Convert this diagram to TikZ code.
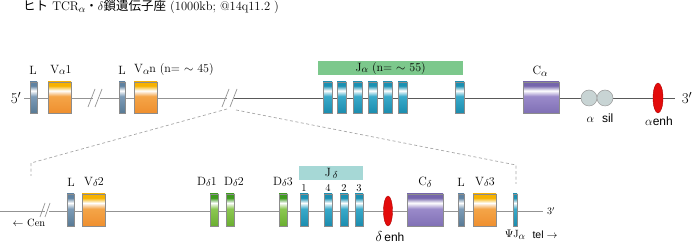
\documentclass[tikz,border=0pt]{standalone}
\usepackage{fontspec}
\newfontfamily\cjk{Noto Sans CJK JP}
\newfontfamily\sansf{Liberation Sans}
\usetikzlibrary{shapes.geometric}
\newcommand\gsub[1]{\raisebox{-0.35ex}{\fontsize{10}{10}\selectfont$#1$}}
\definecolor{stT}{HTML}{5F82A2}\definecolor{stM}{HTML}{7D9CB8}\definecolor{stB}{HTML}{587A95}
\definecolor{orT}{HTML}{F7B200}\definecolor{orM}{HTML}{F4A548}\definecolor{orB}{HTML}{EF8F2F}
\definecolor{tlT}{HTML}{1B90B2}\definecolor{tlM}{HTML}{3AAACA}\definecolor{tlB}{HTML}{1B8CAE}
\definecolor{puT}{HTML}{7565AC}\definecolor{puM}{HTML}{9A8ACA}\definecolor{puB}{HTML}{8070B5}
\definecolor{grT}{HTML}{3E9A1E}\definecolor{grM}{HTML}{8CC852}\definecolor{grB}{HTML}{6AAE30}
\definecolor{jabar}{HTML}{7CC88C}\definecolor{jdbar}{HTML}{A6D8D6}
\definecolor{circ}{HTML}{C8D4D4}\definecolor{enhred}{HTML}{E30B0B}
\pgfdeclareverticalshading{steelsh}{100bp}{color(0bp)=(stB); color(25bp)=(stB); color(52bp)=(stM); color(61bp)=(white); color(69bp)=(stT); color(75bp)=(stT); color(100bp)=(stT)}
\pgfdeclareverticalshading{orangesh}{100bp}{color(0bp)=(orB); color(25bp)=(orB); color(52bp)=(orM); color(61bp)=(white); color(69bp)=(orT); color(75bp)=(orT); color(100bp)=(orT)}
\pgfdeclareverticalshading{tealsh}{100bp}{color(0bp)=(tlB); color(25bp)=(tlB); color(52bp)=(tlM); color(61bp)=(white); color(69bp)=(tlT); color(75bp)=(tlT); color(100bp)=(tlT)}
\pgfdeclareverticalshading{purplesh}{100bp}{color(0bp)=(puB); color(25bp)=(puB); color(52bp)=(puM); color(61bp)=(white); color(69bp)=(puT); color(75bp)=(puT); color(100bp)=(puT)}
\pgfdeclareverticalshading{greensh}{100bp}{color(0bp)=(grB); color(25bp)=(grB); color(52bp)=(grM); color(61bp)=(white); color(69bp)=(grT); color(75bp)=(grT); color(100bp)=(grT)}
\tikzset{
  seg/.style={inner sep=0pt, outer sep=0pt, draw=gray!90, line width=0.6pt, anchor=north west},
  lbox/.style={seg, shading=steelsh},
  vbox/.style={seg, shading=orangesh},
  jbox/.style={seg, shading=tealsh},
  cbox/.style={seg, shading=purplesh},
  dbox/.style={seg, shading=greensh},
  lab/.style={inner sep=0pt, font=\fontsize{12}{13}\selectfont},
  sml/.style={inner sep=0pt, font=\fontsize{10.5}{11}\selectfont},
  gline/.style={draw=gray!85, line width=0.8pt},
  dline/.style={draw=black!65, line width=0.8pt},
  brk/.style={draw=gray!85, line width=0.7pt},
  dsh/.style={draw=gray!70, line width=0.7pt, dash pattern=on 3pt off 2.5pt},
  enh/.style={ellipse, fill=enhred, draw=red!70!black, line width=0.4pt, inner sep=0pt},
  sil/.style={circle, fill=circ, draw=gray!80, line width=0.5pt, inner sep=0pt, minimum size=16pt},
}
\begin{document}
\begin{tikzpicture}[x=1pt,y=-1pt]
\useasboundingbox (0,0) rectangle (694,245);
% title
\node[anchor=west, inner sep=0pt, font=\fontsize{12.5}{14}\selectfont] (title) at (23,7)
  {{\cjk ヒト} TCR\gsub{\alpha}{\cjk ・}$\delta${\cjk 鎖遺伝子座} (1000kb; @14q11.2 )};
% ===== top row =====
\coordinate (t0) at (24,98);
\coordinate (b1a) at (93,98); \coordinate (b1b) at (100,98);
\coordinate (b2a) at (227,98); \coordinate (b2b) at (234,98);
\coordinate (tE) at (675,98);
\draw[gline] (t0) -- (b1a);
\draw[gline] (b1b) -- (b2a);
\draw[dline] (b2b) -- (tE);
\draw[brk] (88,107) -- (95,89); \draw[brk] (95,107) -- (102,89);
\draw[brk] (222,107) -- (229,89); \draw[brk] (230,107) -- (237,89);
\node[inner sep=0pt, font=\fontsize{15}{16}\selectfont] (p5) at (16,98) {5$'$};
\node[inner sep=0pt, font=\fontsize{15}{16}\selectfont] (p3) at (687,98) {3$'$};
\node[lbox, minimum width=7pt, minimum height=31pt] (La1) at (30,82) {};
\node[vbox, minimum width=23pt, minimum height=31pt] (Va1) at (48,82) {};
\node[lbox, minimum width=6pt, minimum height=31pt] (La2) at (119,82) {};
\node[vbox, minimum width=23pt, minimum height=31pt] (Van) at (134,82) {};
\node[lab] at (33,70) {L};
\node[lab] at (61,70) {V\gsub{\alpha}1};
\node[lab] at (122,70) {L};
\node[lab, anchor=west] at (134,70) {V\gsub{\alpha}n (n= $\sim$ 45)};
% J alpha
\node[fill=jabar, inner sep=0pt, minimum width=145pt, minimum height=14pt, anchor=north west] (jabar) at (318,61) {};
\node[lab] at (jabar.center) {J\gsub{\alpha} (n= $\sim$ 55)};
\foreach \x [count=\i] in {323,337,353,368,383,398,455}
  \node[jbox, minimum width=9pt, minimum height=31pt] (Ja\i) at (\x,82) {};
\node[cbox, minimum width=36pt, minimum height=31pt] (Ca) at (523,82) {};
\node[lab] at (540,71) {C\gsub{\alpha}};
\node[sil] (s1) at (589,98) {};
\node[sil] (s2) at (605,98) {};
\node[lab] at (600,118) {$\alpha$\ \ {\sansf sil}};
\node[enh, minimum width=10pt, minimum height=30pt] (ae) at (658,98) {};
\node[lab] at (659,121) {$\alpha${\sansf enh}};
% ===== dashed zoom lines =====
\coordinate (zl) at (227,109);
\coordinate (zr) at (236,110);
\coordinate (zlc) at (31,163); \coordinate (zle) at (31,176);
\coordinate (zrc) at (516,165); \coordinate (zre) at (516,184);
\draw[dsh] (zl) -- (zlc) -- (zle);
\draw[dsh] (zr) -- (zrc) -- (zre);
% ===== bottom row =====
\coordinate (u0) at (0,211);
\coordinate (c1a) at (45,211); \coordinate (c1b) at (49,211);
\coordinate (uE) at (543,211);
\draw[gline] (u0) -- (c1a);
\draw[gline] (c1b) -- (uE);
\draw[brk] (40,217) -- (45,203); \draw[brk] (45,217) -- (50,203);
\node[inner sep=0pt, font=\fontsize{10}{12}\selectfont] (q3) at (551,211) {3$'$};
\node[sml] (cen) at (29,223) {$\leftarrow$ Cen};
\node[lbox, minimum width=7pt, minimum height=32pt] (Ld1) at (67,194) {};
\node[vbox, minimum width=23pt, minimum height=32pt] (Vd2) at (82,194) {};
\node[lab] at (71,182) {L};
\node[lab] at (94,182) {V\gsub{\delta}2};
\node[dbox, minimum width=8pt, minimum height=32pt] (Dd1) at (210,194) {};
\node[dbox, minimum width=8pt, minimum height=32pt] (Dd2) at (226,194) {};
\node[dbox, minimum width=8pt, minimum height=32pt] (Dd3) at (279,194) {};
\node[lab] at (207,182) {D\gsub{\delta}1};
\node[lab] at (234,182) {D\gsub{\delta}2};
\node[lab] at (283,182) {D\gsub{\delta}3};
\node[fill=jdbar, inner sep=0pt, minimum width=64pt, minimum height=14pt, anchor=north west] (jdbar) at (299,166) {};
\node[lab] at (jdbar.center) {J\,\gsub{\delta}};
\node[jbox, minimum width=8pt, minimum height=32pt] (Jd1) at (300,194) {};
\node[jbox, minimum width=8pt, minimum height=32pt] (Jd4) at (324,194) {};
\node[jbox, minimum width=8pt, minimum height=32pt] (Jd2) at (340,194) {};
\node[jbox, minimum width=8pt, minimum height=32pt] (Jd3) at (355,194) {};
\node[sml] at (304,188) {1};
\node[sml] at (328,188) {4};
\node[sml] at (344,188) {2};
\node[sml] at (359,188) {3};
\node[enh, minimum width=9pt, minimum height=30pt] (de) at (388,211) {};
\node[lab] at (390,237) {{\fontsize{15}{15}\selectfont$\delta$}\,{\sansf enh}};
\node[cbox, minimum width=36pt, minimum height=32pt] (Cd) at (407,194) {};
\node[lab] at (425,182) {C\gsub{\delta}};
\node[lbox, minimum width=6pt, minimum height=32pt] (Ld2) at (458,194) {};
\node[vbox, minimum width=23pt, minimum height=32pt] (Vd3) at (473,194) {};
\node[lab] at (461,182) {L};
\node[lab] at (485,182) {V\gsub{\delta}3};
\node[jbox, minimum width=4pt, minimum height=32pt] (psi) at (513,194) {};
\node[sml] at (515,235) {$\Psi$J\gsub{\alpha}};
\node[sml, font=\sansf\fontsize{10.5}{11}\selectfont] at (545,235) {tel $\rightarrow$};
\end{tikzpicture}
\end{document}
